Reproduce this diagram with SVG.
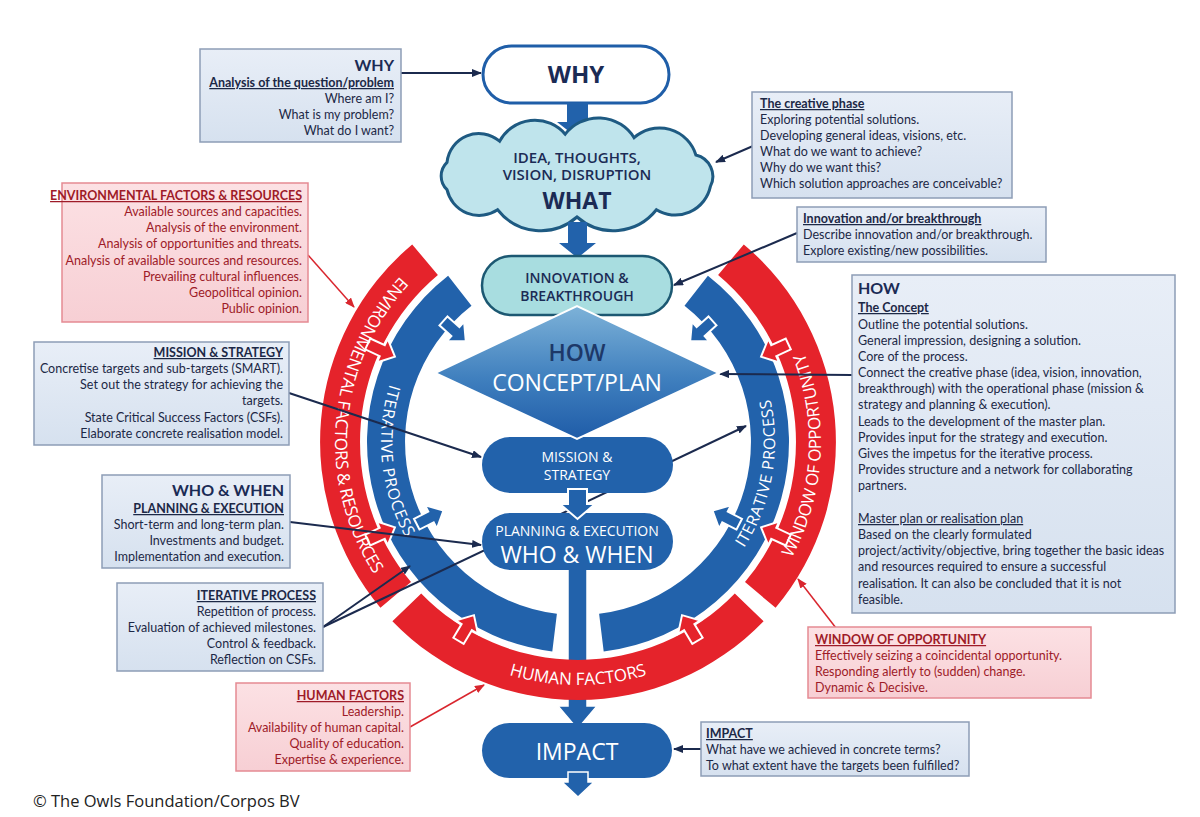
<svg xmlns="http://www.w3.org/2000/svg" xmlns:xlink="http://www.w3.org/1999/xlink" width="1200" height="817" viewBox="0 0 1200 817">
<style>
.bx{fill:url(#gb);stroke:#8d9db6;stroke-width:1.5}
.rbx{fill:url(#gr);stroke:#e58a93;stroke-width:1.5}
.t{font-family:Lato,'Liberation Sans',sans-serif;font-size:12.5px;fill:#1c2846}
.tr{fill:#9e1b28}
.b{font-weight:bold}
.u{text-decoration:underline}
.h{font-size:16px;font-weight:bold;fill:#1b2b55}
.e{text-anchor:end}
.n{font-family:'Open Sans','Liberation Sans',sans-serif;text-anchor:middle;fill:#1b2b55}
.w{fill:#fff}
.rg{font-family:'Open Sans','Liberation Sans',sans-serif;font-size:17px;fill:#fff;text-anchor:middle}
.c{stroke:#1b2a4e;stroke-width:2;fill:none;marker-end:url(#an)}
.cr{stroke:#d9262e;stroke-width:1.5;fill:none;marker-end:url(#ar)}
.red{fill:#e5232b}
.blu{fill:#2262ab}
.sar{fill:#e5232b;stroke:#fff;stroke-width:2}
.sab{fill:#2262ab;stroke:#fff;stroke-width:2}
.pill{fill:#2262ab}
</style>
<defs>
<linearGradient id="gb" x1="0" y1="0" x2="0" y2="1"><stop offset="0" stop-color="#e8eef7"/><stop offset="1" stop-color="#d6e1ef"/></linearGradient>
<linearGradient id="gr" x1="0" y1="0" x2="0" y2="1"><stop offset="0" stop-color="#fce1e4"/><stop offset="1" stop-color="#f7cfd4"/></linearGradient>
<linearGradient id="gd" x1="0" y1="0" x2="0" y2="1"><stop offset="0" stop-color="#7db2d8"/><stop offset="0.55" stop-color="#3f7fbe"/><stop offset="1" stop-color="#1f5ca8"/></linearGradient>
<marker id="an" markerUnits="userSpaceOnUse" markerWidth="10" markerHeight="8" refX="9" refY="4" orient="auto"><path d="M0,0 L10,4 L0,8 Z" fill="#1b2a4e"/></marker>
<marker id="ar" markerUnits="userSpaceOnUse" markerWidth="10" markerHeight="8" refX="9" refY="4" orient="auto"><path d="M0,0 L10,4 L0,8 Z" fill="#d9262e"/></marker>
<path id="ra" d="M-15,-6 L1,-6 L1,-13 L15,0 L1,13 L1,6 L-15,6 Z"/>
<path id="p-env" d="M421.8,255.9 A243,243 0 0 0 391.9,598.2"/>
<path id="p-win" d="M777.1,581.4 A243,243 0 0 0 792.5,327.9"/>
<path id="p-hum" d="M456.5,652.4 A243,243 0 0 0 699.5,652.4"/>
<path id="p-itl" d="M399.5,358.7 A197,197 0 0 0 420.7,560.6"/>
<path id="p-itr" d="M726.7,571.2 A197,197 0 0 0 761.9,371.4"/>
</defs>
<rect width="1200" height="817" fill="#fff"/>

<!-- stem under rings -->
<g id="stem">
<path class="blu" stroke="#fff" stroke-width="1.5" d="M568,565 H587 V706 H597 L577.5,729 L558,706 H568 Z"/>
</g>

<!-- rings -->
<g id="rings">
<path class="red" d="M380.4,607.8 A258,258 0 0 1 412.2,244.4 L437.9,275.0 A218,218 0 0 0 411.0,582.1 Z"/>
<path class="red" d="M743.8,244.4 A258,258 0 0 1 775.6,607.8 L745.0,582.1 A218,218 0 0 0 718.1,275.0 Z"/>
<path class="red" d="M763.6,621.2 A258,258 0 0 1 392.4,621.2 L421.2,593.4 A218,218 0 0 0 734.8,593.4 Z"/>
<path class="blu" d="M552.3,651.4 A211,211 0 0 1 448.1,275.7 L471.5,305.7 A173,173 0 0 0 556.9,613.7 Z"/>
<path class="blu" d="M707.9,275.7 A211,211 0 0 1 603.7,651.4 L599.1,613.7 A173,173 0 0 0 684.5,305.7 Z"/>
<use xlink:href="#ra" class="sar" transform="translate(578 442) rotate(205) translate(217 0) rotate(180)"/>
<use xlink:href="#ra" class="sar" transform="translate(578 442) rotate(155) translate(217 0) rotate(180)"/>
<use xlink:href="#ra" class="sar" transform="translate(578 442) rotate(121) translate(217 0) rotate(180)"/>
<use xlink:href="#ra" class="sar" transform="translate(578 442) rotate(59) translate(217 0) rotate(180)"/>
<use xlink:href="#ra" class="sar" transform="translate(578 442) rotate(25) translate(217 0) rotate(180)"/>
<use xlink:href="#ra" class="sar" transform="translate(578 442) rotate(-25) translate(217 0) rotate(180)"/>
<use xlink:href="#ra" class="sab" transform="translate(578 442) rotate(222) translate(166 0) rotate(180)"/>
<use xlink:href="#ra" class="sab" transform="translate(578 442) rotate(153) translate(166 0) rotate(180)"/>
<use xlink:href="#ra" class="sab" transform="translate(578 442) rotate(27) translate(166 0) rotate(180)"/>
<use xlink:href="#ra" class="sab" transform="translate(578 442) rotate(-42) translate(166 0) rotate(180)"/>
<text class="rg"><textPath xlink:href="#p-env" startOffset="50%" textLength="322" lengthAdjust="spacing">ENVIRONMENTAL FACTORS &amp; RESOURCES</textPath><textPath xlink:href="#p-itl" startOffset="50%" textLength="158" lengthAdjust="spacing" font-size="16">ITERATIVE PROCESS</textPath></text>
<text class="rg"><textPath xlink:href="#p-win" startOffset="50%" textLength="212" lengthAdjust="spacing">WINDOW OF OPPORTUNITY</textPath><textPath xlink:href="#p-itr" startOffset="50%" textLength="155" lengthAdjust="spacing" font-size="16">ITERATIVE PROCESS</textPath></text>
<text class="rg"><textPath xlink:href="#p-hum" startOffset="50%" textLength="140" lengthAdjust="spacing">HUMAN FACTORS</textPath></text>
</g>

<!-- connectors -->
<g id="connectors">
<line class="c" x1="401" y1="73" x2="481" y2="73"/>
<line class="c" x1="753" y1="146" x2="716" y2="162"/>
<line class="c" x1="797" y1="233" x2="674" y2="285"/>
<line class="c" x1="852" y1="375" x2="720" y2="374"/>
<line class="c" x1="289" y1="393" x2="481" y2="457"/>
<line class="c" x1="290" y1="522" x2="481" y2="545"/>
<line class="c" x1="323" y1="627" x2="410" y2="566"/>
<line class="c" x1="323" y1="627" x2="746" y2="426"/>
<line class="c" x1="701" y1="749" x2="674" y2="749"/>
<line class="cr" x1="308" y1="255" x2="354" y2="307"/>
<line class="cr" x1="410" y1="727" x2="484" y2="685"/>
<line class="cr" x1="836" y1="628" x2="798" y2="579"/>
</g>

<!-- center nodes -->
<g id="n-why">
<rect x="483" y="46" width="186" height="57" rx="28.5" fill="#fff" stroke="#1f5ea8" stroke-width="3"/>
<text class="n b" x="576" y="83" font-size="24">WHY</text>
</g>
<g id="a-why-what"><path class="blu" d="M567,103 H588 V122 H598 L577.5,138 L557,122 H567 Z"/></g>
<g id="n-what">
<path fill="#bfe4ec" stroke="#1e5a82" stroke-width="3" d="M447,162.3 A32,32 0 0 1 499.6,141.2 A40,40 0 0 1 565.2,134.2 A42,42 0 0 1 634.1,137.7 A38,38 0 0 1 695.9,155 A22,22 0 0 1 710.4,186.4 A36,36 0 0 1 656.4,209.8 A55,55 0 0 1 577,217 A55,55 0 0 1 497.6,209.8 A33,33 0 0 1 447,189.7 A19,19 0 0 1 447,162.3 Z"/>
<text class="n" font-size="15" font-weight="600"><tspan x="577" y="163">IDEA, THOUGHTS,</tspan><tspan x="577" y="180">VISION, DISRUPTION</tspan><tspan x="577" y="209" font-size="23" font-weight="bold">WHAT</tspan></text>
</g>
<g id="a-what-inno"><path class="blu" d="M568,222 H587 V243 H596 L577.5,258 L559,243 H568 Z"/></g>
<g id="n-inno">
<rect x="482" y="256" width="190" height="59" rx="29.5" fill="#a8dde0" stroke="#1c5872" stroke-width="2.5"/>
<text class="n" font-size="14" font-weight="600"><tspan x="577" y="283">INNOVATION &amp;</tspan><tspan x="577" y="301">BREAKTHROUGH</tspan></text>
</g>
<g id="n-mission">
<rect class="pill" x="482" y="437" width="191" height="56" rx="28"/>
<text class="n w" font-size="14"><tspan x="577" y="462">MISSION &amp;</tspan><tspan x="577" y="480">STRATEGY</tspan></text>
</g>
<g id="n-how">
<path fill="url(#gd)" stroke="#fff" stroke-width="2" d="M435,373 L577,306 L719,373 L577,439 Z"/>
<text class="n" font-size="23"><tspan x="577" y="361" font-weight="600" fill="#1d3868">HOW</tspan><tspan x="577" y="391" fill="#fff">CONCEPT/PLAN</tspan></text>
</g>
<g id="n-plan">
<rect class="pill" x="482" y="513" width="191" height="57" rx="28.5"/>
<text class="n w"><tspan x="577" y="536" font-size="14">PLANNING &amp; EXECUTION</tspan><tspan x="577" y="563" font-size="23">WHO &amp; WHEN</tspan></text>
</g>
<g id="a-mis-plan"><path class="blu" stroke="#fff" stroke-width="2" d="M568,489 H587 V504 H595 L577.5,519 L560,504 H568 Z"/></g>
<g id="n-impact">
<rect class="pill" x="482" y="723" width="190" height="55" rx="27.5"/>
<text class="n w" x="577" y="760" font-size="23">IMPACT</text>
</g>
<g id="a-impact-out"><path class="blu" stroke="#fff" stroke-width="1.5" d="M568,772 H588 V782 H594 L578,797 L562,782 H568 Z"/></g>

<!-- side boxes -->
<g id="b-why">
<rect class="bx" x="200" y="49" width="201" height="93"/>
<text class="t e" x="394"><tspan class="h" x="394" y="71">WHY</tspan><tspan class="b u" x="394" y="87">Analysis of the question/problem</tspan><tspan x="394" y="103">Where am I?</tspan><tspan x="394" y="119">What is my problem?</tspan><tspan x="394" y="135">What do I want?</tspan></text>
</g>
<g id="b-env">
<rect class="rbx" x="62" y="183" width="246" height="139"/>
<text class="t tr e"><tspan class="b u" x="302" y="200">ENVIRONMENTAL FACTORS &amp; RESOURCES</tspan><tspan x="302" y="216">Available sources and capacities.</tspan><tspan x="302" y="232">Analysis of the environment.</tspan><tspan x="302" y="248">Analysis of opportunities and threats.</tspan><tspan x="302" y="265">Analysis of available sources and resources.</tspan><tspan x="302" y="281">Prevailing cultural influences.</tspan><tspan x="302" y="297">Geopolitical opinion.</tspan><tspan x="302" y="313">Public opinion.</tspan></text>
</g>
<g id="b-mission">
<rect class="bx" x="34" y="342" width="255" height="103"/>
<text class="t e"><tspan class="b u" x="283" y="357">MISSION &amp; STRATEGY</tspan><tspan x="283" y="373">Concretise targets and sub-targets (SMART).</tspan><tspan x="283" y="389">Set out the strategy for achieving the</tspan><tspan x="283" y="405">targets.</tspan><tspan x="283" y="422">State Critical Success Factors (CSFs).</tspan><tspan x="283" y="438">Elaborate concrete realisation model.</tspan></text>
</g>
<g id="b-who">
<rect class="bx" x="102" y="475" width="188" height="93"/>
<text class="t e"><tspan class="h" x="284" y="496">WHO &amp; WHEN</tspan><tspan class="b u" x="284" y="513">PLANNING &amp; EXECUTION</tspan><tspan x="284" y="529">Short-term and long-term plan.</tspan><tspan x="284" y="545">Investments and budget.</tspan><tspan x="284" y="561">Implementation and execution.</tspan></text>
</g>
<g id="b-iter">
<rect class="bx" x="117" y="583" width="206" height="88"/>
<text class="t e"><tspan class="b u" x="316" y="600">ITERATIVE PROCESS</tspan><tspan x="316" y="616">Repetition of process.</tspan><tspan x="316" y="632">Evaluation of achieved milestones.</tspan><tspan x="316" y="648">Control &amp; feedback.</tspan><tspan x="316" y="664">Reflection on CSFs.</tspan></text>
</g>
<g id="b-human">
<rect class="rbx" x="236" y="683" width="174" height="88"/>
<text class="t tr e"><tspan class="b u" x="404" y="700">HUMAN FACTORS</tspan><tspan x="404" y="716">Leadership.</tspan><tspan x="404" y="732">Availability of human capital.</tspan><tspan x="404" y="748">Quality of education.</tspan><tspan x="404" y="764">Expertise &amp; experience.</tspan></text>
</g>
<g id="b-creative">
<rect class="bx" x="752" y="92" width="260" height="106"/>
<text class="t"><tspan class="b u" x="760" y="108">The creative phase</tspan><tspan x="760" y="124">Exploring potential solutions.</tspan><tspan x="760" y="140">Developing general ideas, visions, etc.</tspan><tspan x="760" y="156">What do we want to achieve?</tspan><tspan x="760" y="172">Why do we want this?</tspan><tspan x="760" y="188">Which solution approaches are conceivable?</tspan></text>
</g>
<g id="b-inno">
<rect class="bx" x="797" y="207" width="249" height="55"/>
<text class="t"><tspan class="b u" x="803" y="223">Innovation and/or breakthrough</tspan><tspan x="803" y="239">Describe innovation and/or breakthrough.</tspan><tspan x="803" y="255">Explore existing/new possibilities.</tspan></text>
</g>
<g id="b-how">
<rect class="bx" x="852" y="275" width="323" height="338"/>
<text class="t"><tspan class="h" x="858" y="294">HOW</tspan><tspan class="b u" x="858" y="312">The Concept</tspan><tspan x="858" y="329">Outline the potential solutions.</tspan><tspan x="858" y="345">General impression, designing a solution.</tspan><tspan x="858" y="361">Core of the process.</tspan><tspan x="858" y="377">Connect the creative phase (idea, vision, innovation,</tspan><tspan x="858" y="393">breakthrough) with the operational phase (mission &amp;</tspan><tspan x="858" y="409">strategy and planning &amp; execution).</tspan><tspan x="858" y="426">Leads to the development of the master plan.</tspan><tspan x="858" y="442">Provides input for the strategy and execution.</tspan><tspan x="858" y="458">Gives the impetus for the iterative process.</tspan><tspan x="858" y="474">Provides structure and a network for collaborating</tspan><tspan x="858" y="490">partners.</tspan><tspan class="u" x="858" y="523">Master plan or realisation plan</tspan><tspan x="858" y="539">Based on the clearly formulated</tspan><tspan x="858" y="555">project/activity/objective, bring together the basic ideas</tspan><tspan x="858" y="571">and resources required to ensure a successful</tspan><tspan x="858" y="588">realisation. It can also be concluded that it is not</tspan><tspan x="858" y="604">feasible.</tspan></text>
</g>
<g id="b-window">
<rect class="rbx" x="808" y="627" width="283" height="71"/>
<text class="t tr"><tspan class="b u" x="815" y="644">WINDOW OF OPPORTUNITY</tspan><tspan x="815" y="660">Effectively seizing a coincidental opportunity.</tspan><tspan x="815" y="676">Responding alertly to (sudden) change.</tspan><tspan x="815" y="692">Dynamic &amp; Decisive.</tspan></text>
</g>
<g id="b-impact">
<rect class="bx" x="701" y="722" width="268" height="54"/>
<text class="t"><tspan class="b u" x="706" y="738">IMPACT</tspan><tspan x="706" y="754">What have we achieved in concrete terms?</tspan><tspan x="706" y="770">To what extent have the targets been fulfilled?</tspan></text>
</g>
<text id="copyright" x="33" y="807" font-family="'Open Sans','Liberation Sans',sans-serif" font-size="16.5" fill="#222">© The Owls Foundation/Corpos BV</text>
</svg>
